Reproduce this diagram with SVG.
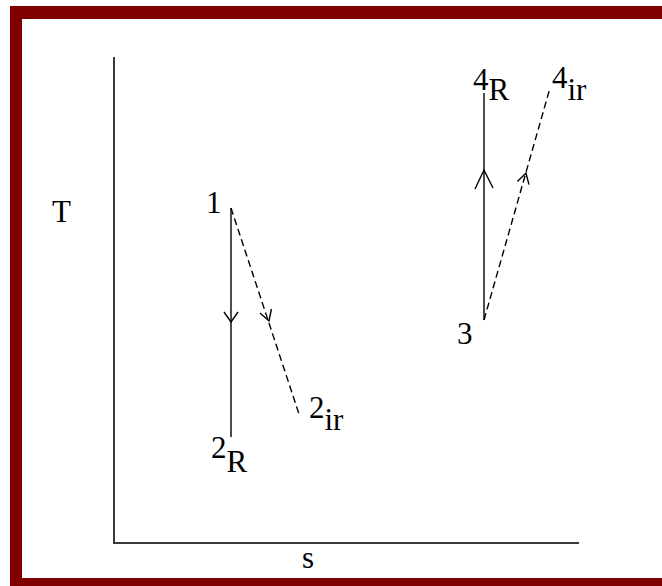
<svg xmlns="http://www.w3.org/2000/svg" width="662" height="586" viewBox="0 0 662 586">
  <style>
    .lbl { font-family: "Liberation Serif", "Times New Roman", serif; font-size: 31px; fill: #000; }
    .sub { font-family: "Liberation Serif", "Times New Roman", serif; font-size: 31px; fill: #000; }
    .axis { stroke: #3a3a3a; stroke-width: 2; fill: none; }
    .solid { stroke: #000; stroke-width: 1.4; fill: none; }
    .dash { stroke: #000; stroke-width: 1.4; fill: none; stroke-dasharray: 7 4; }
    .head { stroke: #000; stroke-width: 1.4; fill: none; stroke-linejoin: miter; }
  </style>
  <rect x="0" y="0" width="662" height="586" fill="#ffffff"/>
  <path id="frame" d="M10,6 H662 V586 H10 Z M22,19 V578 H662 V19 Z" fill="#800000" fill-rule="evenodd"/>

  <g id="axes">
    <polyline class="axis" points="114,57 114,543 579,543"/>
    <text class="lbl" x="52" y="222">T</text>
    <text class="lbl" x="302" y="568">s</text>
  </g>

  <g id="connectors">
    <line class="solid" x1="231" y1="208" x2="231" y2="437"/>
    <polyline class="head" points="224,312 231,322 238,312"/>
    <line class="dash" x1="231" y1="208" x2="299" y2="414"/>
    <polyline class="head" points="260,313 269,321 271.4,309"/>
    <line class="solid" x1="484" y1="320" x2="484" y2="93"/>
    <polyline class="head" points="475,189 484,170 493,188"/>
    <line class="dash" x1="484" y1="320" x2="550" y2="88"/>
    <polyline class="head" points="517.4,181.4 526,173 529,184.6"/>
  </g>

  <g id="state-1">
    <text class="lbl" x="206" y="213">1</text>
  </g>
  <g id="state-2R">
    <text class="lbl" x="211" y="458">2<tspan class="sub" dy="14">R</tspan></text>
  </g>
  <g id="state-2ir">
    <text class="lbl" x="309" y="418">2<tspan class="sub" dy="12">ir</tspan></text>
  </g>
  <g id="state-3">
    <text class="lbl" x="457" y="344">3</text>
  </g>
  <g id="state-4R">
    <text class="lbl" x="473" y="90">4<tspan class="sub" dy="10">R</tspan></text>
  </g>
  <g id="state-4ir">
    <text class="lbl" x="552" y="88">4<tspan class="sub" dy="12">ir</tspan></text>
  </g>
</svg>
